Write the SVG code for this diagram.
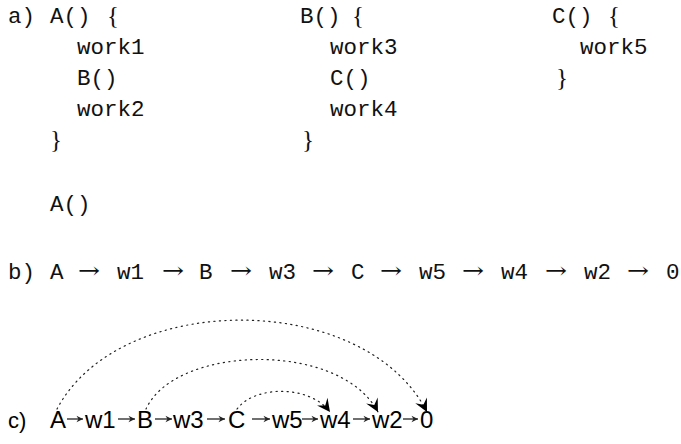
<svg xmlns="http://www.w3.org/2000/svg" width="681" height="444" viewBox="0 0 681 444">
<defs>
<style>
.m{font-family:"Liberation Mono","DejaVu Sans Mono",monospace;font-size:22.5px;fill:#111}
.br{font-family:"Liberation Serif","DejaVu Serif",serif;font-size:25px;fill:#111}
.ar{font-family:"DejaVu Serif","Liberation Serif",serif;font-size:22px;fill:#111}
.s{font-family:"Liberation Sans",Arial,sans-serif;font-size:24px;fill:#000}
.arc{fill:none;stroke:#222;stroke-width:1.2;stroke-dasharray:1.2 4.3;stroke-linecap:round}
.sh{fill:none;stroke:#333;stroke-width:1.4}
</style>
<marker id="big" viewBox="-14 -7 15 14" markerWidth="15" markerHeight="14" refX="0" refY="0" orient="auto" markerUnits="userSpaceOnUse">
<path d="M0,0 L-13,-6.5 L-8,0 L-13,6.5 Z" fill="#000"/>
</marker>
<marker id="sm" viewBox="-7 -4 8 8" markerWidth="8" markerHeight="8" refX="0" refY="0" orient="auto" markerUnits="userSpaceOnUse">
<path d="M0,0 L-6.5,-3.2 L-4.5,0 L-6.5,3.2 Z" fill="#222"/>
</marker>
</defs>

<g id="part-a">
<text class="m" x="8" y="23">a)</text>
<text class="m" x="50" y="23">A()</text>
<text class="br" x="107" y="24">{</text>
<text class="m" x="77" y="54">work1</text>
<text class="m" x="77" y="85">B()</text>
<text class="m" x="77" y="116">work2</text>
<text class="br" x="50" y="148">}</text>

<text class="m" x="300" y="23">B()</text>
<text class="br" x="352" y="24">{</text>
<text class="m" x="330" y="54">work3</text>
<text class="m" x="330" y="85">C()</text>
<text class="m" x="330" y="116">work4</text>
<text class="br" x="302" y="148">}</text>

<text class="m" x="552" y="23">C()</text>
<text class="br" x="608" y="24">{</text>
<text class="m" x="580" y="54">work5</text>
<text class="br" x="556" y="86">}</text>

<text class="m" x="50" y="211">A()</text>
</g>

<g id="part-b">
<text class="m" x="8" y="279">b)</text>
<text class="m" x="50" y="279">A</text>
<text class="ar" x="78" y="278" textLength="22" lengthAdjust="spacingAndGlyphs">→</text>
<text class="m" x="117" y="279">w1</text>
<text class="ar" x="162" y="278" textLength="22" lengthAdjust="spacingAndGlyphs">→</text>
<text class="m" x="199" y="279">B</text>
<text class="ar" x="230" y="278" textLength="22" lengthAdjust="spacingAndGlyphs">→</text>
<text class="m" x="269" y="279">w3</text>
<text class="ar" x="312" y="278" textLength="22" lengthAdjust="spacingAndGlyphs">→</text>
<text class="m" x="351" y="279">C</text>
<text class="ar" x="380" y="278" textLength="22" lengthAdjust="spacingAndGlyphs">→</text>
<text class="m" x="419" y="279">w5</text>
<text class="ar" x="462" y="278" textLength="22" lengthAdjust="spacingAndGlyphs">→</text>
<text class="m" x="501" y="279">w4</text>
<text class="ar" x="545" y="278" textLength="22" lengthAdjust="spacingAndGlyphs">→</text>
<text class="m" x="584" y="279">w2</text>
<text class="ar" x="627" y="278" textLength="22" lengthAdjust="spacingAndGlyphs">→</text>
<text class="m" x="666" y="279">0</text>
</g>

<g id="part-c">
<text class="s" x="8" y="428" style="font-size:22px">c)</text>
<g id="nA"><text class="s" x="50" y="428">A</text></g>
<g id="nw1"><text class="s" x="85" y="428">w1</text></g>
<g id="nB"><text class="s" x="137" y="428">B</text></g>
<g id="nw3"><text class="s" x="173" y="428">w3</text></g>
<g id="nC"><text class="s" x="228" y="428">C</text></g>
<g id="nw5"><text class="s" x="272" y="428">w5</text></g>
<g id="nw4"><text class="s" x="320" y="428">w4</text></g>
<g id="nw2"><text class="s" x="372" y="428">w2</text></g>
<g id="n0"><text class="s" x="420" y="428">0</text></g>
</g>

<g id="connectors">
<line class="sh" x1="67" y1="419" x2="83" y2="419" marker-end="url(#sm)"/>
<line class="sh" x1="118" y1="419" x2="135" y2="419" marker-end="url(#sm)"/>
<line class="sh" x1="155" y1="419" x2="172" y2="419" marker-end="url(#sm)"/>
<line class="sh" x1="207" y1="419" x2="225" y2="419" marker-end="url(#sm)"/>
<line class="sh" x1="252" y1="419" x2="270" y2="419" marker-end="url(#sm)"/>
<line class="sh" x1="302" y1="419" x2="318" y2="419" marker-end="url(#sm)"/>
<line class="sh" x1="353" y1="419" x2="370" y2="419" marker-end="url(#sm)"/>
<line class="sh" x1="403" y1="419" x2="418" y2="419" marker-end="url(#sm)"/>

<path class="arc" d="M57,409 C120,290 365,290 427,412" marker-end="url(#big)"/>
<path class="arc" d="M146,409 C175,345 340,340 378,412" marker-end="url(#big)"/>
<path class="arc" d="M237,409 C255,385 310,385 330,412" marker-end="url(#big)"/>
</g>
</svg>
